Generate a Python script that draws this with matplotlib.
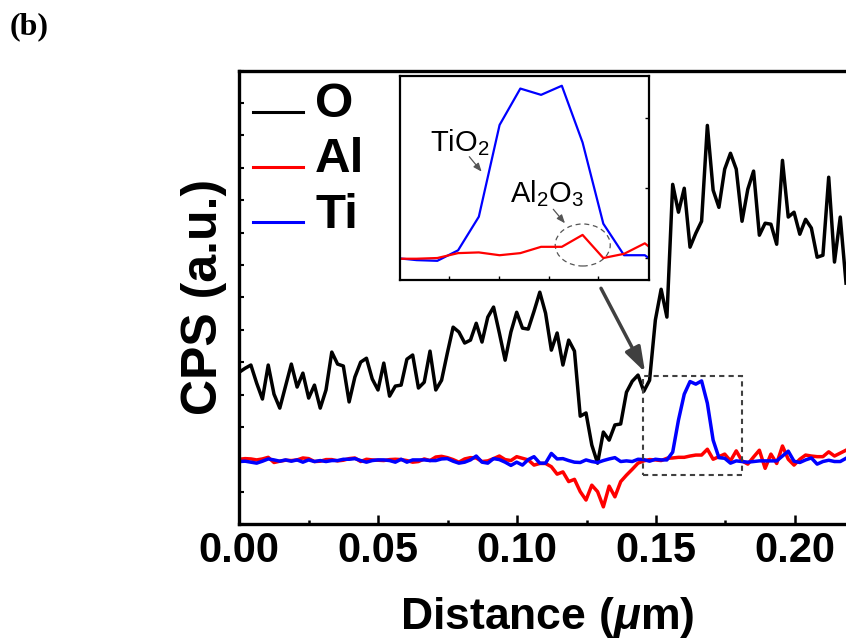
import numpy as np
import matplotlib
matplotlib.use('Agg')
import matplotlib.pyplot as plt
from matplotlib.patches import Rectangle, Ellipse

plt.rcParams['font.family'] = ['Liberation Sans', 'DejaVu Sans']
plt.rcParams['mathtext.fontset'] = 'custom'
plt.rcParams['mathtext.rm'] = 'Liberation Sans'
plt.rcParams['mathtext.bf'] = 'Liberation Sans:bold'
plt.rcParams['mathtext.it'] = 'Liberation Sans:italic:bold'
plt.rcParams['mathtext.default'] = 'rm'

# line profile, sampled every ~2.08 nm
step = 0.00208
o_cps = [4.69, 4.81, 4.91, 4.35, 3.86, 4.91, 4.01, 3.58, 4.26, 4.94,
         4.23, 4.66, 3.89, 4.29, 3.58, 4.14, 5.31, 4.94, 4.88, 3.77,
         4.54, 5.00, 5.12, 4.48, 4.14, 4.97, 3.95, 4.26, 4.29, 5.09,
         5.22, 4.20, 4.38, 5.34, 4.14, 4.44, 5.28, 6.08, 5.93, 5.59,
         5.68, 6.20, 5.62, 6.39, 6.70, 5.90, 5.06, 5.93, 6.54, 6.05,
         6.02, 6.57, 7.16, 6.51, 5.37, 5.90, 4.91, 5.68, 5.34, 3.33,
         3.43, 2.44, 1.88, 2.84, 2.59, 3.06, 3.09, 4.07, 4.41, 4.60,
         4.10, 4.44, 6.30, 7.25, 6.39, 10.49, 9.63, 10.37, 8.55, 8.98,
         9.35, 12.31, 10.31, 9.78, 10.96, 11.45, 10.96, 9.35, 10.34, 10.90,
         8.92, 9.29, 9.26, 8.64, 11.23, 9.48, 9.63, 8.95, 9.41, 9.14,
         8.24, 8.30, 10.71, 8.09, 9.48, 7.44]
al_cps = [2.00, 2.02, 2.01, 1.98, 2.01, 2.06, 1.90, 1.94, 1.97, 1.96,
          1.98, 2.04, 2.02, 1.93, 1.94, 1.99, 1.99, 1.95, 1.97, 2.02,
          2.04, 1.93, 2.00, 1.98, 1.97, 1.96, 1.99, 2.00, 1.99, 1.96,
          1.91, 1.93, 2.01, 1.96, 2.07, 2.09, 2.05, 1.99, 1.91, 2.01,
          2.05, 2.04, 1.93, 1.95, 2.02, 2.10, 1.99, 1.96, 2.08, 2.03,
          1.98, 1.82, 1.87, 1.87, 1.77, 1.54, 1.61, 1.31, 1.38, 1.00,
          0.74, 1.20, 1.00, 0.53, 1.17, 0.84, 1.31, 1.51, 1.69, 1.88,
          1.95, 1.99, 1.98, 1.96, 2.03, 2.04, 2.06, 2.06, 2.10, 2.13,
          2.13, 2.31, 2.00, 2.08, 2.16, 1.95, 2.26, 1.95, 1.85, 2.07,
          2.28, 1.72, 2.16, 1.87, 2.41, 2.00, 1.82, 2.00, 2.13, 2.10,
          2.08, 2.08, 2.23, 2.10, 2.19, 2.28]
ti_cps = [1.93, 1.94, 1.91, 1.88, 1.94, 2.01, 1.98, 1.94, 1.98, 1.94,
          1.98, 1.91, 1.98, 1.93, 1.96, 1.93, 1.96, 1.96, 2.00, 2.00,
          2.02, 1.96, 1.91, 1.96, 1.98, 1.98, 1.96, 1.91, 2.00, 1.91,
          1.98, 1.98, 1.98, 1.96, 1.96, 2.01, 2.02, 1.94, 1.88, 1.91,
          1.98, 2.10, 1.91, 1.88, 2.02, 1.99, 1.91, 1.81, 1.91, 1.82,
          1.99, 2.08, 1.88, 1.88, 2.18, 2.01, 2.02, 1.96, 1.91, 1.90,
          1.98, 1.93, 1.90, 1.96, 2.01, 2.05, 1.93, 1.95, 1.93, 2.00,
          1.99, 1.94, 2.00, 1.98, 1.98, 2.22, 3.21, 4.01, 4.40, 4.32,
          4.42, 3.73, 2.59, 2.05, 2.03, 1.88, 1.95, 1.93, 1.91, 1.93,
          1.95, 1.95, 1.95, 1.95, 2.10, 2.25, 1.94, 1.90, 1.98, 2.04,
          1.85, 1.93, 1.97, 1.93, 1.93, 2.03]
distance = np.arange(len(o_cps)) * step

# zoomed profile across the TiO2 / Al2O3 layers
inset_distance = [0.1436, 0.1461, 0.1486, 0.1511, 0.1536, 0.1561, 0.1586,
                  0.1611, 0.1636, 0.1661, 0.1686, 0.1711, 0.1736, 0.1761]
inset_ti = [0.00, -0.03, -0.04, 0.11, 0.59, 1.90, 2.42,
            2.33, 2.46, 1.65, 0.49, 0.04, 0.04, -0.17]
inset_al = [-0.01, -0.01, 0.00, 0.07, 0.08, 0.04, 0.07,
            0.16, 0.16, 0.33, 0.00, 0.06, 0.21, -0.03]

series = [('O', o_cps, 'black'), ('Al', al_cps, '#ff0000'), ('Ti', ti_cps, '#0000ff')]

fig = plt.figure(figsize=(8.46, 6.44), dpi=100)
ax = fig.add_axes([0.2829, 0.1863, 0.8209, 0.7039])

for name, vals, col in series:
    ax.plot(distance, vals, color=col, lw=2.5)

ax.set_xlim(0, 0.25)
ax.set_ylim(0, 14)
xt = np.arange(0, 0.201, 0.05)
ax.set_xticks(xt)
ax.set_xticks(np.arange(0.025, 0.25, 0.05), minor=True)
ax.set_xticklabels([f'{v:.2f}' for v in xt], fontweight='bold')
ax.set_yticks(np.arange(0, 15, 1))
ax.tick_params(axis='x', which='major', direction='in', length=6.5, width=1.8,
               labelsize=30, pad=5)
ax.tick_params(axis='x', which='minor', direction='in', length=3.2, width=1.8)
ax.tick_params(axis='y', direction='in', length=3.5, width=1.5, labelleft=False)
for s in ax.spines.values():
    s.set_linewidth(2.4)

ax.set_xlabel(r'$\mathbf{Distance\ (}\mathit{\mu}\mathbf{m)}$', fontsize=32)
ax.xaxis.set_label_coords(0.4438, -0.157)
ax.text(-0.051, 0.5, 'CPS (a.u.)', transform=ax.transAxes, rotation=90,
        ha='center', va='center', fontsize=36, weight='bold')

# hand-drawn legend
leg_y = [0.9096, 0.7883, 0.6656]
for (name, vals, col), y in zip(series, leg_y):
    ax.plot([0.0193, 0.0913], [y, y], transform=ax.transAxes, color=col, lw=2.2)
    ax.text(0.109, y - 0.0125, name, transform=ax.transAxes, fontsize=35.5,
            weight='bold', va='baseline', ha='left')

ax.add_patch(Rectangle((0.14515, 1.51), 0.0358, 3.06, fill=False,
                       ls=(0, (2.5, 2)), lw=1.5, ec='#404040', zorder=5))
ax.annotate('', xy=(0.14605, 4.69), xytext=(0.1302, 7.28),
            arrowprops=dict(arrowstyle='-|>,head_length=0.6,head_width=0.2',
                            color='#404040', lw=2.5, mutation_scale=25,
                            shrinkA=0, shrinkB=0))

# inset
ins = fig.add_axes([0.4728, 0.5652, 0.2943, 0.3173])
ins.plot(inset_distance, inset_ti, color='#0000ff', lw=1.6)
ins.plot(inset_distance, inset_al, color='#ff0000', lw=1.6)
ins.set_xlim(0.1441, 0.1741)
ins.set_ylim(-0.314, 2.604)
ins.set_xticks([0.150, 0.156, 0.162, 0.168])
ins.set_yticks([0, 1, 2])
ins.tick_params(direction='in', bottom=True, top=False, left=False, right=True,
                labelbottom=False, labelleft=False, length=3, width=1)
for s in ins.spines.values():
    s.set_linewidth(1.6)

ins.text(0.14772, 1.519, 'TiO$_2$', fontsize=21, va='baseline')
ins.text(0.15736, 0.804, 'Al$_2$O$_3$', fontsize=21, va='baseline')
small = dict(arrowstyle='-|>,head_length=0.5,head_width=0.2', color='#555555',
             lw=0.9, mutation_scale=10, shrinkA=0, shrinkB=0)
ins.annotate('', xy=(0.15394, 1.233), xytext=(0.15245, 1.447), arrowprops=small)
ins.annotate('', xy=(0.16398, 0.496), xytext=(0.16257, 0.696), arrowprops=small)
ins.add_patch(Ellipse((0.16612, 0.186), 0.00663, 0.6, fill=False,
                      ls=(0, (4, 3)), lw=0.9, ec='#555555'))

fig.text(10 / 846, 1 - 34 / 644, '(b)', family='Liberation Serif', weight='bold',
         fontsize=23, va='baseline')

fig.savefig('out.png', dpi=100)
